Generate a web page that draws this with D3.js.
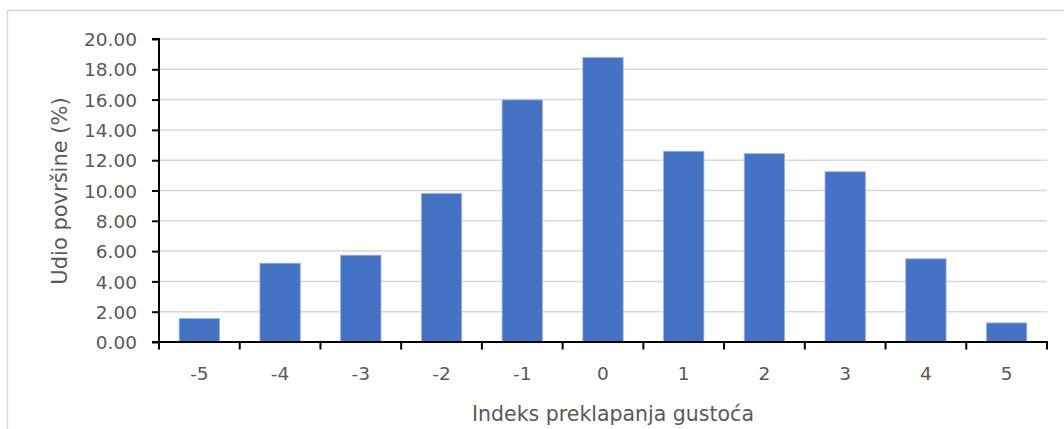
<!DOCTYPE html>
<html>
<head>
<meta charset="utf-8">
<script src="https://cdn.jsdelivr.net/npm/d3@7"></script>
<style>
  body { margin: 0; background: #fff; }
  text { font-family: "DejaVu Sans", sans-serif; fill: #595959; }
</style>
</head>
<body>
<script>
// data
let categories = ["-5", "-4", "-3", "-2", "-1", "0", "1", "2", "3", "4", "5"];
let values = [1.55, 5.2, 5.73, 9.81, 15.98, 18.78, 12.59, 12.43, 11.24, 5.49, 1.26];
let yTicks = [0, 2, 4, 6, 8, 10, 12, 14, 16, 18, 20];

let W = 1064, H = 429;
let margin = {top: 39, right: 17, bottom: 87, left: 159}
    , width = W - margin.left - margin.right
    , height = H - margin.top - margin.bottom;

let svg0 = d3.select("body").append("svg")
    .attr("width", W)
    .attr("height", H);

// chart frame
svg0.append("path")
    .attr("d", "M7.5," + H + "V10.5H" + W)
    .attr("fill", "none")
    .attr("stroke", "#d9d9d9")
    .attr("stroke-width", 1.5);

let svg = svg0.append("g")
    .attr("transform", "translate(" + margin.left + "," + margin.top + ")");

let xScale = d3.scaleBand()
    .domain(categories)
    .range([0, width])
    .paddingInner(0.5)
    .paddingOuter(0.25);

let yScale = d3.scaleLinear()
    .domain([0, 20])
    .range([height, 0]);

// gridlines
svg.append("g")
    .selectAll("line")
    .data(yTicks.filter(d => d > 0))
    .join("line")
    .attr("x1", 0)
    .attr("x2", width)
    .attr("y1", d => yScale(d))
    .attr("y2", d => yScale(d))
    .attr("stroke", "#d9d9d9")
    .attr("stroke-width", 1.5);

// bars
svg.append("g")
    .selectAll("rect")
    .data(values)
    .join("rect")
    .attr("x", (d, i) => xScale(categories[i]))
    .attr("y", d => yScale(d))
    .attr("width", xScale.bandwidth())
    .attr("height", d => yScale(0) - yScale(d))
    .attr("fill", "#4472c4")
    .attr("stroke", "#9db5e3")
    .attr("stroke-width", 0.8);

// y axis
let yAxis = svg.append("g")
    .call(d3.axisLeft(yScale).tickValues(yTicks).tickFormat(d3.format(".2f")).tickSize(7).tickPadding(15));
yAxis.select(".domain").attr("stroke", "#000").attr("stroke-width", 2)
    .attr("d", "M-7," + height + "H0V0H-7");
yAxis.selectAll(".tick line").attr("stroke", "#000").attr("stroke-width", 2);
yAxis.selectAll(".tick text")
    .attr("fill", "#595959")
    .style("font-size", "18.5px")
    .style("font-family", "DejaVu Sans, sans-serif")
    .attr("dy", "0.36em");

// x axis: ticks on band edges
let xg = svg.append("g")
    .attr("transform", "translate(0," + height + ")");
let step = xScale.step();
let edges = d3.range(categories.length + 1).map(i => i * step);
xg.append("line")
    .attr("x1", -1).attr("x2", width + 1)
    .attr("stroke", "#000").attr("stroke-width", 2);
xg.selectAll(".edge")
    .data(edges)
    .join("line")
    .attr("class", "edge")
    .attr("x1", d => d).attr("x2", d => d)
    .attr("y1", 0).attr("y2", 7.5)
    .attr("stroke", "#000").attr("stroke-width", 2);
xg.selectAll(".lbl")
    .data(categories)
    .join("text")
    .attr("class", "lbl")
    .attr("x", d => xScale(d) + xScale.bandwidth() / 2)
    .attr("y", 38)
    .attr("text-anchor", "middle")
    .style("font-size", "18.5px")
    .text(d => d);

// axis titles
svg0.append("text")
    .attr("x", 613)
    .attr("y", 421)
    .attr("text-anchor", "middle")
    .style("font-size", "20.5px")
    .text("Indeks preklapanja gustoća");

svg0.append("text")
    .attr("transform", "translate(67,191) rotate(-90)")
    .attr("text-anchor", "middle")
    .style("font-size", "21px")
    .text("Udio površine (%)");
</script>
</body>
</html>
